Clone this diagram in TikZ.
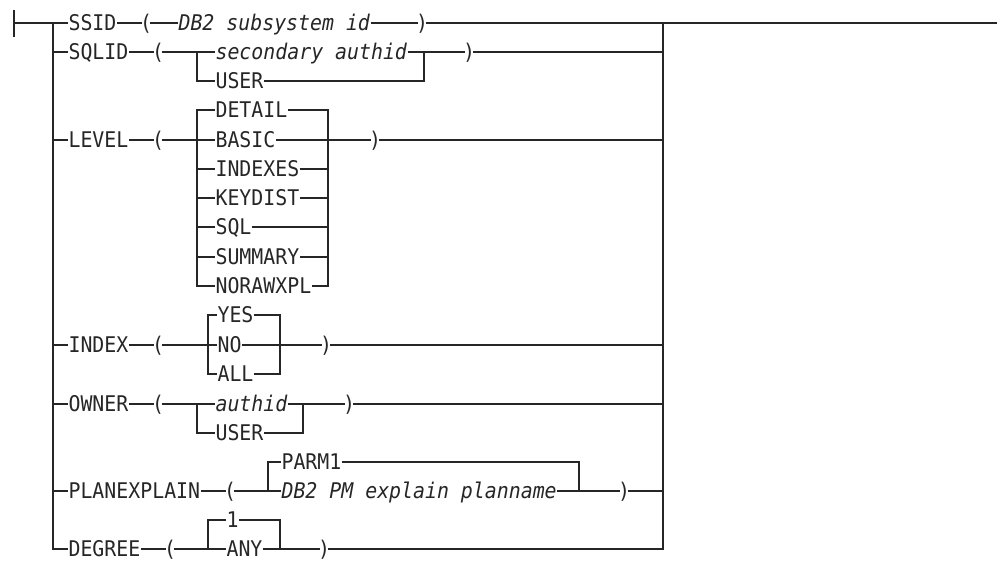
\documentclass[tikz,border=0pt]{standalone}
\usepackage{fontspec}
\setmainfont{DejaVu Sans Mono}[FakeStretch=0.92]

\begin{document}
\begin{tikzpicture}[x=1pt, y=-1pt, line width=1.1pt, color=black!85,
  every node/.style={inner sep=0pt, text height=15.6pt, text depth=0pt, anchor=west, font=\fontsize{21.6}{26}\selectfont},
  var/.style={font=\fontsize{21.6}{26}\selectfont\itshape},
  par/.style={anchor=center, inner xsep=-3pt}]
\useasboundingbox (0,0) rectangle (997,563);
\coordinate (s) at (14,23);
\coordinate (lt) at (53,23);
\coordinate (rt) at (663,23);
\coordinate (e) at (997,23);
\draw ([yshift=13pt]s) -- ([yshift=-14pt]s);

\node (ssid) at (68,23) {SSID};
\node[par] (lp1) at (146,23) {(};
\node[var] (a1) at (178,23) {DB2 subsystem id};
\node[par] (rp1) at (422,23) {)};
\draw (s) -- (ssid) -- (lp1) -- (a1) -- (rp1) -- (e);

\node (sqlid) at (68,52) {SQLID};
\node[par] (lp2) at (158,52) {(};
\coordinate (b2) at (197,52);
\coordinate (c2) at (424,52);
\node[var] (a2) at (215,52) {secondary authid};
\node (user2) at (215,81) {USER};
\node[par] (rp2) at (469,52) {)};
\draw (lt) |- (sqlid) -- (lp2) -- (a2) -- (rp2) -| (rt);
\draw (b2) |- (user2) -| (c2);

\node (level) at (68,140) {LEVEL};
\node[par] (lp3) at (158,140) {(};
\coordinate (b3) at (197,140);
\coordinate (c3) at (328,140);
\node (detail) at (215,110) {DETAIL};
\node (basic) at (215,140) {BASIC};
\node (indexes) at (215,169) {INDEXES};
\node (keydist) at (215,198) {KEYDIST};
\node (sql) at (215,227) {SQL};
\node (summary) at (215,257) {SUMMARY};
\node (norawxpl) at (215,286) {NORAWXPL};
\node[par] (rp3) at (375,140) {)};
\draw (lt) |- (level) -- (lp3) -- (basic) -- (rp3) -| (rt);
\draw (b3) |- (detail) -| (c3);
\draw (b3) |- (indexes) -| (c3);
\draw (b3) |- (keydist) -| (c3);
\draw (b3) |- (sql) -| (c3);
\draw (b3) |- (summary) -| (c3);
\draw (b3) |- (norawxpl) -| (c3);

\node (index) at (68,345) {INDEX};
\node[par] (lp4) at (158,345) {(};
\coordinate (b4) at (208,345);
\coordinate (c4) at (280,345);
\node (yes) at (217,315) {YES};
\node (no) at (217,345) {NO};
\node (all) at (217,374) {ALL};
\node[par] (rp4) at (326,345) {)};
\draw (lt) |- (index) -- (lp4) -- (no) -- (rp4) -| (rt);
\draw (b4) |- (yes) -| (c4);
\draw (b4) |- (all) -| (c4);

\node (owner) at (68,404) {OWNER};
\node[par] (lp5) at (158,404) {(};
\coordinate (b5) at (197,404);
\coordinate (c5) at (303,404);
\node[var] (authid) at (215,404) {authid};
\node (user5) at (215,433) {USER};
\node[par] (rp5) at (349,404) {)};
\draw (lt) |- (owner) -- (lp5) -- (authid) -- (rp5) -| (rt);
\draw (b5) |- (user5) -| (c5);

\node (plan) at (68,491) {PLANEXPLAIN};
\node[par] (lp6) at (230,491) {(};
\coordinate (b6) at (268,491);
\coordinate (c6) at (579,491);
\node (parm1) at (281,462) {PARM1};
\node[var] (a6) at (281,491) {DB2 PM explain planname};
\node[par] (rp6) at (624,491) {)};
\draw (lt) |- (plan) -- (lp6) -- (a6) -- (rp6) -| (rt);
\draw (b6) |- (parm1) -| (c6);

\node (degree) at (68,549) {DEGREE};
\node[par] (lp7) at (170,549) {(};
\coordinate (b7) at (208,549);
\coordinate (c7) at (280,549);
\node (one) at (226,520) {1};
\node (any) at (226,549) {ANY};
\node[par] (rp7) at (324,549) {)};
\draw (lt) |- (degree) -- (lp7) -- (any) -- (rp7) -| (rt);
\draw (b7) |- (one) -| (c7);
\end{tikzpicture}
\end{document}
